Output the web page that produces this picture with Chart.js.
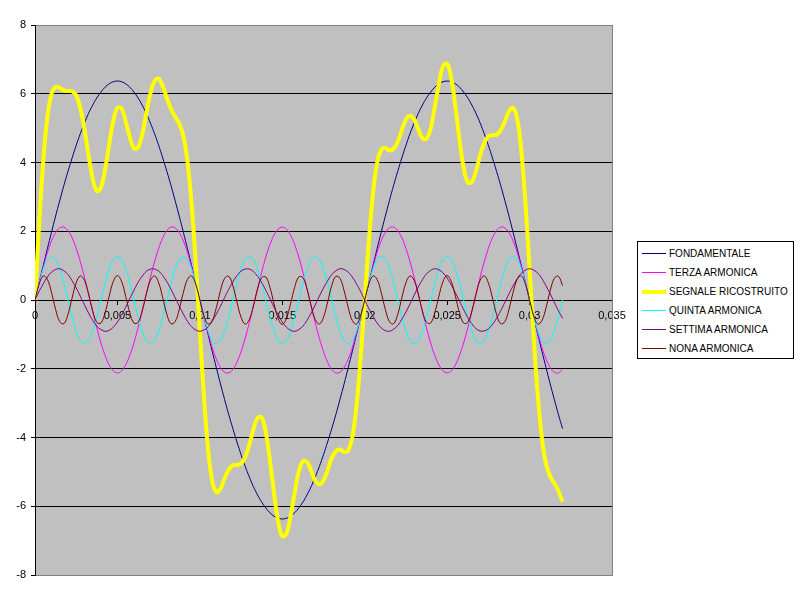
<!DOCTYPE html>
<html lang="it">
<head>
<meta charset="utf-8">
<title>Ricostruzione onda quadra - armoniche</title>
<script src="https://cdn.jsdelivr.net/npm/chart.js@4.4.1/dist/chart.umd.min.js"></script>
<style>
  html, body { margin: 0; padding: 0; background: #fff; }
  #contenitore { position: relative; width: 800px; height: 600px; }
  #grafico { display: block; }
  #legenda {
    position: absolute; left: 637px; top: 241px;
    width: 157px; height: 118px; box-sizing: border-box;
    border: 1px solid #000; background: #fff;
    padding: 2px 0 0 4px;
    font: 10px "Liberation Sans", Arial, sans-serif; color: #000;
  }
  .voce { display: flex; align-items: center; height: 19px; white-space: nowrap; }
  .campione { display: block; width: 24px; margin-right: 3px; flex: none; }
</style>
</head>
<body>
<div id="contenitore">
  <canvas id="grafico" width="800" height="600"></canvas>
  <div id="legenda"></div>
</div>
<script>
// tempo (s), un campione ogni 0,25 ms
const tempi = [
  0, 0.00025, 0.0005, 0.00075, 0.001, 0.00125, 0.0015, 0.00175,
  0.002, 0.00225, 0.0025, 0.00275, 0.003, 0.00325, 0.0035, 0.00375,
  0.004, 0.00425, 0.0045, 0.00475, 0.005, 0.00525, 0.0055, 0.00575,
  0.006, 0.00625, 0.0065, 0.00675, 0.007, 0.00725, 0.0075, 0.00775,
  0.008, 0.00825, 0.0085, 0.00875, 0.009, 0.00925, 0.0095, 0.00975,
  0.01, 0.01025, 0.0105, 0.01075, 0.011, 0.01125, 0.0115, 0.01175,
  0.012, 0.01225, 0.0125, 0.01275, 0.013, 0.01325, 0.0135, 0.01375,
  0.014, 0.01425, 0.0145, 0.01475, 0.015, 0.01525, 0.0155, 0.01575,
  0.016, 0.01625, 0.0165, 0.01675, 0.017, 0.01725, 0.0175, 0.01775,
  0.018, 0.01825, 0.0185, 0.01875, 0.019, 0.01925, 0.0195, 0.01975,
  0.02, 0.02025, 0.0205, 0.02075, 0.021, 0.02125, 0.0215, 0.02175,
  0.022, 0.02225, 0.0225, 0.02275, 0.023, 0.02325, 0.0235, 0.02375,
  0.024, 0.02425, 0.0245, 0.02475, 0.025, 0.02525, 0.0255, 0.02575,
  0.026, 0.02625, 0.0265, 0.02675, 0.027, 0.02725, 0.0275, 0.02775,
  0.028, 0.02825, 0.0285, 0.02875, 0.029, 0.02925, 0.0295, 0.02975,
  0.03, 0.03025, 0.0305, 0.03075, 0.031, 0.03125, 0.0315, 0.03175,
  0.032
];

const fondamentale = [
  0, 0.50, 1.00, 1.49, 1.97, 2.44, 2.89, 3.33,
  3.74, 4.13, 4.50, 4.84, 5.15, 5.43, 5.67, 5.88,
  6.05, 6.19, 6.29, 6.35, 6.37, 6.35, 6.29, 6.19,
  6.05, 5.88, 5.67, 5.43, 5.15, 4.84, 4.50, 4.13,
  3.74, 3.33, 2.89, 2.44, 1.97, 1.49, 1.00, 0.50,
  0, -0.50, -1.00, -1.49, -1.97, -2.44, -2.89, -3.33,
  -3.74, -4.13, -4.50, -4.84, -5.15, -5.43, -5.67, -5.88,
  -6.05, -6.19, -6.29, -6.35, -6.37, -6.35, -6.29, -6.19,
  -6.05, -5.88, -5.67, -5.43, -5.15, -4.84, -4.50, -4.13,
  -3.74, -3.33, -2.89, -2.44, -1.97, -1.49, -1.00, -0.50,
  0, 0.50, 1.00, 1.49, 1.97, 2.44, 2.89, 3.33,
  3.74, 4.13, 4.50, 4.84, 5.15, 5.43, 5.67, 5.88,
  6.05, 6.19, 6.29, 6.35, 6.37, 6.35, 6.29, 6.19,
  6.05, 5.88, 5.67, 5.43, 5.15, 4.84, 4.50, 4.13,
  3.74, 3.33, 2.89, 2.44, 1.97, 1.49, 1.00, 0.50,
  0, -0.50, -1.00, -1.49, -1.97, -2.44, -2.89, -3.33,
  -3.74
];

const terzaArmonica = [
  0, 0.50, 0.96, 1.38, 1.72, 1.96, 2.10, 2.12,
  2.02, 1.81, 1.50, 1.11, 0.66, 0.17, -0.33, -0.81,
  -1.25, -1.61, -1.89, -2.06, -2.12, -2.06, -1.89, -1.61,
  -1.25, -0.81, -0.33, 0.17, 0.66, 1.11, 1.50, 1.81,
  2.02, 2.12, 2.10, 1.96, 1.72, 1.38, 0.96, 0.50,
  0, -0.50, -0.96, -1.38, -1.72, -1.96, -2.10, -2.12,
  -2.02, -1.81, -1.50, -1.11, -0.66, -0.17, 0.33, 0.81,
  1.25, 1.61, 1.89, 2.06, 2.12, 2.06, 1.89, 1.61,
  1.25, 0.81, 0.33, -0.17, -0.66, -1.11, -1.50, -1.81,
  -2.02, -2.12, -2.10, -1.96, -1.72, -1.38, -0.96, -0.50,
  0, 0.50, 0.96, 1.38, 1.72, 1.96, 2.10, 2.12,
  2.02, 1.81, 1.50, 1.11, 0.66, 0.17, -0.33, -0.81,
  -1.25, -1.61, -1.89, -2.06, -2.12, -2.06, -1.89, -1.61,
  -1.25, -0.81, -0.33, 0.17, 0.66, 1.11, 1.50, 1.81,
  2.02, 2.12, 2.10, 1.96, 1.72, 1.38, 0.96, 0.50,
  0, -0.50, -0.96, -1.38, -1.72, -1.96, -2.10, -2.12,
  -2.02
];

const segnaleRicostruito = [
  0, 2.20, 4.03, 5.32, 5.99, 6.20, 6.17, 6.10,
  6.08, 6.07, 5.95, 5.58, 4.97, 4.21, 3.53, 3.17,
  3.27, 3.79, 4.53, 5.22, 5.59, 5.57, 5.20, 4.74,
  4.41, 4.44, 4.81, 5.42, 6.01, 6.37, 6.44, 6.22,
  5.87, 5.56, 5.33, 5.13, 4.77, 4.03, 2.78, 1.08,
  -0.91, -2.82, -4.34, -5.27, -5.59, -5.49, -5.19, -4.94,
  -4.81, -4.80, -4.76, -4.57, -4.21, -3.76, -3.43, -3.42,
  -3.85, -4.66, -5.62, -6.45, -6.87, -6.80, -6.29, -5.61,
  -4.99, -4.69, -4.71, -4.97, -5.25, -5.36, -5.25, -4.95,
  -4.60, -4.40, -4.35, -4.42, -4.37, -3.98, -3.09, -1.70,
  0, 1.70, 3.09, 3.98, 4.37, 4.42, 4.35, 4.40,
  4.60, 4.95, 5.25, 5.36, 5.25, 4.97, 4.71, 4.69,
  4.99, 5.61, 6.29, 6.80, 6.87, 6.45, 5.62, 4.66,
  3.85, 3.42, 3.43, 3.76, 4.21, 4.57, 4.76, 4.80,
  4.81, 4.94, 5.19, 5.49, 5.59, 5.27, 4.34, 2.82,
  0.91, -1.08, -2.78, -4.03, -4.77, -5.13, -5.33, -5.56,
  -5.87
];

const quintaArmonica = [
  0, 0.49, 0.90, 1.18, 1.27, 1.18, 0.90, 0.49,
  0, -0.49, -0.90, -1.18, -1.27, -1.18, -0.90, -0.49,
  0, 0.49, 0.90, 1.18, 1.27, 1.18, 0.90, 0.49,
  0, -0.49, -0.90, -1.18, -1.27, -1.18, -0.90, -0.49,
  0, 0.49, 0.90, 1.18, 1.27, 1.18, 0.90, 0.49,
  0, -0.49, -0.90, -1.18, -1.27, -1.18, -0.90, -0.49,
  0, 0.49, 0.90, 1.18, 1.27, 1.18, 0.90, 0.49,
  0, -0.49, -0.90, -1.18, -1.27, -1.18, -0.90, -0.49,
  0, 0.49, 0.90, 1.18, 1.27, 1.18, 0.90, 0.49,
  0, -0.49, -0.90, -1.18, -1.27, -1.18, -0.90, -0.49,
  0, 0.49, 0.90, 1.18, 1.27, 1.18, 0.90, 0.49,
  0, -0.49, -0.90, -1.18, -1.27, -1.18, -0.90, -0.49,
  0, 0.49, 0.90, 1.18, 1.27, 1.18, 0.90, 0.49,
  0, -0.49, -0.90, -1.18, -1.27, -1.18, -0.90, -0.49,
  0, 0.49, 0.90, 1.18, 1.27, 1.18, 0.90, 0.49,
  0, -0.49, -0.90, -1.18, -1.27, -1.18, -0.90, -0.49,
  0
];

const settimaArmonica = [
  0, 0.25, 0.47, 0.67, 0.81, 0.89, 0.91, 0.85,
  0.74, 0.56, 0.35, 0.11, -0.14, -0.38, -0.59, -0.76,
  -0.86, -0.91, -0.88, -0.79, -0.64, -0.44, -0.21, 0.04,
  0.28, 0.51, 0.69, 0.83, 0.90, 0.90, 0.84, 0.71,
  0.53, 0.31, 0.07, -0.18, -0.41, -0.62, -0.78, -0.87,
  -0.91, -0.87, -0.78, -0.62, -0.41, -0.18, 0.07, 0.31,
  0.53, 0.71, 0.84, 0.90, 0.90, 0.83, 0.69, 0.51,
  0.28, 0.04, -0.21, -0.44, -0.64, -0.79, -0.88, -0.91,
  -0.86, -0.76, -0.59, -0.38, -0.14, 0.11, 0.35, 0.56,
  0.74, 0.85, 0.91, 0.89, 0.81, 0.67, 0.47, 0.25,
  0, -0.25, -0.47, -0.67, -0.81, -0.89, -0.91, -0.85,
  -0.74, -0.56, -0.35, -0.11, 0.14, 0.38, 0.59, 0.76,
  0.86, 0.91, 0.88, 0.79, 0.64, 0.44, 0.21, -0.04,
  -0.28, -0.51, -0.69, -0.83, -0.90, -0.90, -0.84, -0.71,
  -0.53, -0.31, -0.07, 0.18, 0.41, 0.62, 0.78, 0.87,
  0.91, 0.87, 0.78, 0.62, 0.41, 0.18, -0.07, -0.31,
  -0.53
];

const nonaArmonica = [
  0, 0.46, 0.70, 0.60, 0.22, -0.27, -0.63, -0.69,
  -0.42, 0.06, 0.50, 0.70, 0.57, 0.17, -0.32, -0.65,
  -0.67, -0.37, 0.11, 0.54, 0.71, 0.54, 0.11, -0.37,
  -0.67, -0.65, -0.32, 0.17, 0.57, 0.70, 0.50, 0.06,
  -0.42, -0.69, -0.63, -0.27, 0.22, 0.60, 0.70, 0.46,
  0, -0.46, -0.70, -0.60, -0.22, 0.27, 0.63, 0.69,
  0.42, -0.06, -0.50, -0.70, -0.57, -0.17, 0.32, 0.65,
  0.67, 0.37, -0.11, -0.54, -0.71, -0.54, -0.11, 0.37,
  0.67, 0.65, 0.32, -0.17, -0.57, -0.70, -0.50, -0.06,
  0.42, 0.69, 0.63, 0.27, -0.22, -0.60, -0.70, -0.46,
  0, 0.46, 0.70, 0.60, 0.22, -0.27, -0.63, -0.69,
  -0.42, 0.06, 0.50, 0.70, 0.57, 0.17, -0.32, -0.65,
  -0.67, -0.37, 0.11, 0.54, 0.71, 0.54, 0.11, -0.37,
  -0.67, -0.65, -0.32, 0.17, 0.57, 0.70, 0.50, 0.06,
  -0.42, -0.69, -0.63, -0.27, 0.22, 0.60, 0.70, 0.46,
  0, -0.46, -0.70, -0.60, -0.22, 0.27, 0.63, 0.69,
  0.42
];

const serie = [
  { nome: "FONDAMENTALE", valori: fondamentale, colore: "#000080", spessore: 1 },
  { nome: "TERZA ARMONICA", valori: terzaArmonica, colore: "#ff00ff", spessore: 1 },
  { nome: "SEGNALE RICOSTRUITO", valori: segnaleRicostruito, colore: "#ffff00", spessore: 4 },
  { nome: "QUINTA ARMONICA", valori: quintaArmonica, colore: "#00ffff", spessore: 1 },
  { nome: "SETTIMA ARMONICA", valori: settimaArmonica, colore: "#800080", spessore: 1 },
  { nome: "NONA ARMONICA", valori: nonaArmonica, colore: "#800000", spessore: 1 },
];

Chart.defaults.font.family = "'Liberation Sans', Arial, sans-serif";
Chart.defaults.color = "#000";

// sfondo grigio dell'area del grafico, bordo grigio a destra
const sfondoArea = {
  id: "sfondoArea",
  beforeDraw(chart) {
    const { ctx, chartArea: a } = chart;
    ctx.save();
    ctx.fillStyle = "#fff";
    ctx.fillRect(0, 0, chart.width, chart.height);
    ctx.fillStyle = "#c0c0c0";
    ctx.fillRect(a.left, a.top, a.right - a.left, a.bottom - a.top);
    ctx.restore();
  },
  beforeDatasetsDraw(chart) {
    const { ctx, chartArea: a } = chart;
    const x = Math.round(a.right) + 0.5;
    ctx.save();
    ctx.strokeStyle = "#808080";
    ctx.lineWidth = 1;
    ctx.beginPath();
    ctx.moveTo(x, Math.round(a.top));
    ctx.lineTo(x, Math.round(a.bottom) + 1);
    ctx.stroke();
    ctx.restore();
  },
};

const virgola = (v) => String(Number(v.toFixed(3))).replace(".", ",");

new Chart(document.getElementById("grafico"), {
  type: "line",
  data: {
    datasets: serie.map((s, i) => ({
      label: s.nome,
      data: tempi.map((t, k) => ({ x: t, y: s.valori[k] })),
      borderColor: s.colore,
      backgroundColor: s.colore,
      borderWidth: s.spessore,
      pointRadius: 0,
      tension: 0.4,
      fill: false,
      order: serie.length - i,
    })),
  },
  options: {
    responsive: false,
    animation: false,
    events: [],
    layout: { padding: { top: 25, right: 188, bottom: 25, left: 0 } },
    plugins: {
      legend: { display: false },
      tooltip: { enabled: false },
    },
    scales: {
      x: {
        type: "linear",
        position: { y: 0 },
        min: 0,
        max: 0.035,
        grid: { drawOnChartArea: false, drawTicks: true, tickLength: 4, tickColor: "#000" },
        border: { color: "#000", width: 1 },
        ticks: {
          stepSize: 0.005,
          padding: 5,
          maxRotation: 0,
          autoSkip: false,
          font: { size: 11 },
          callback: virgola,
        },
      },
      y: {
        min: -8,
        max: 8,
        afterFit: (scala) => { scala.width = 35; },
        grid: {
          color: (c) => (c.tick && Math.abs(c.tick.value) === 8 ? "#808080" : "#000"),
          tickLength: 4,
          tickColor: "#000",
        },
        border: { color: "#000", width: 1 },
        ticks: { stepSize: 2, padding: 5, font: { size: 11 }, callback: (v) => String(v) },
      },
    },
  },
  plugins: [sfondoArea],
});

// legenda a destra con riquadro
const legenda = document.getElementById("legenda");
serie.forEach((s) => {
  const voce = document.createElement("div");
  voce.className = "voce";
  const campione = document.createElement("span");
  campione.className = "campione";
  campione.style.height = s.spessore + "px";
  campione.style.background = s.colore;
  const testo = document.createElement("span");
  testo.textContent = s.nome;
  voce.append(campione, testo);
  legenda.appendChild(voce);
});
</script>
</body>
</html>
